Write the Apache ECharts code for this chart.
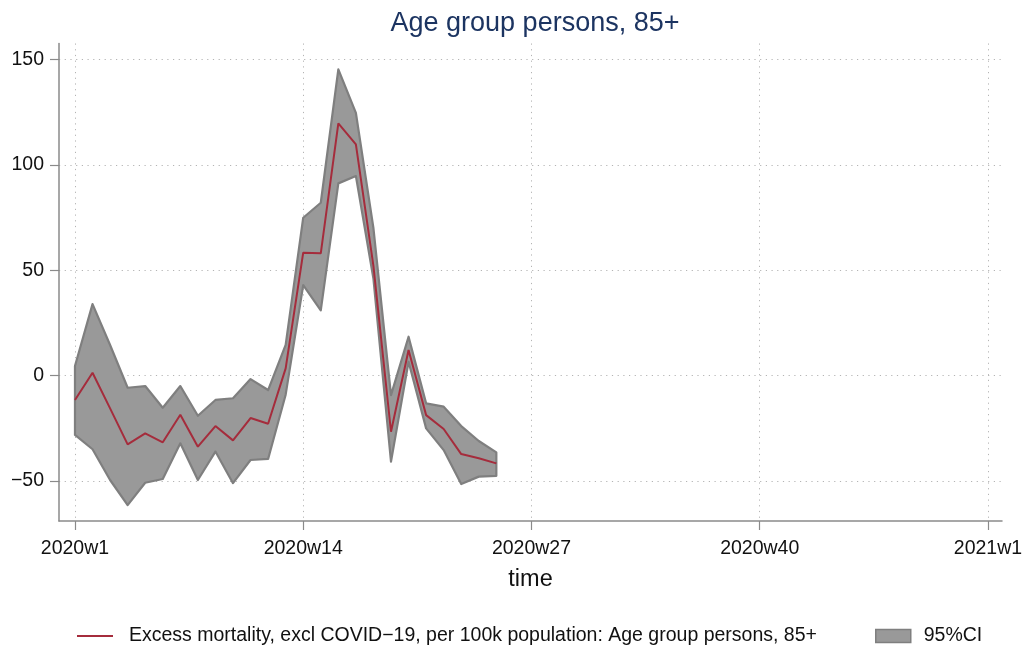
<!DOCTYPE html>
<html>
<head>
<meta charset="utf-8">
<script src="https://cdn.jsdelivr.net/npm/echarts@6/dist/echarts.min.js"></script>
<style>html,body{margin:0;padding:0;background:#fff;}#c{width:1031px;height:648px;}</style>
</head>
<body>
<div id="c"></div>
<script>
// ---- data ----
const weeks = [1,2,3,4,5,6,7,8,9,10,11,12,13,14,15,16,17,18,19,20,21,22,23,24,25];
const excess = [-11.5, 1.4, -15.5, -32.6, -27.4, -31.6, -18.5, -33.7, -23.9, -30.7, -20.1, -22.8, 3.5, 58.4, 58.1, 119.8, 109.8, 52, -26.6, 12.2, -18.7, -25.3, -37.2, -39.2, -41.6];
const ciUpper = [4.6, 34, 14.6, -5.7, -4.9, -15.2, -4.9, -19, -11.5, -10.7, -1.6, -6.8, 14.6, 75, 82.1, 145.4, 124.8, 70, -9.2, 18.5, -13.1, -14.7, -23.9, -31, -36.4];
const ciLower = [-28.1, -34.9, -49.5, -61.4, -50.8, -49, -32.1, -49.5, -36, -51, -40, -39.5, -9, 43, 31, 91.3, 94.8, 46, -40.8, 6.6, -25, -35.3, -51.4, -47.9, -47.5];
const xTickValues = [1, 14, 27, 40, 53];
const xTickLabels = ['2020w1', '2020w14', '2020w27', '2020w40', '2021w1'];
const yTickValues = [-50, 0, 50, 100, 150];
const titleText = 'Age group persons, 85+';
const lineName = 'Excess mortality, excl COVID\u221219, per 100k population: Age group persons, 85+';
const bandName = '95%CI';

const FONT = "'Liberation Sans', Arial, sans-serif";
const axisGray = '#8a8a8a';
const gridStyle = { color: '#b4b4b4', width: 1, type: [1.2, 4.5] };

const chart = echarts.init(document.getElementById('c'), null, { renderer: 'canvas' });
chart.setOption({
  animation: false,
  textStyle: { fontFamily: FONT },
  title: {
    text: titleText, left: 530, top: 5, textAlign: 'center',
    textStyle: { fontFamily: FONT, fontSize: 27, fontWeight: 'normal', color: '#1c3461' }
  },
  grid: { left: 59, right: 29, top: 43.5, bottom: 127, containLabel: false },
  legend: [
    {
      left: 77, top: 626, padding: 0, itemWidth: 36, itemHeight: 2,
      data: [{ name: lineName, icon: 'rect', itemStyle: { color: '#a52c3c' } }],
      textStyle: { fontFamily: FONT, fontSize: 19.5, color: '#111', lineHeight: 20, padding: [0, 0, 0, 11] }
    },
    {
      left: 875, top: 626, padding: 0, itemWidth: 35, itemHeight: 13,
      data: [{ name: bandName, icon: 'rect', itemStyle: { color: '#999999', borderColor: '#7f7f7f', borderWidth: 1.5 } }],
      textStyle: { fontFamily: FONT, fontSize: 19.5, color: '#111', lineHeight: 20, padding: [0, 0, 0, 8] }
    }
  ],
  xAxis: {
    type: 'value', min: 0.09, max: 53.8,
    name: 'time', nameLocation: 'middle', nameGap: 47,
    nameTextStyle: { fontFamily: FONT, fontSize: 23.5, color: '#111' },
    axisLine: { show: true, onZero: false, lineStyle: { color: axisGray, width: 1.5 } },
    axisTick: { show: true, length: 9, lineStyle: { color: axisGray, width: 1.2 }, customValues: xTickValues },
    axisLabel: {
      customValues: xTickValues, margin: 18, fontSize: 19.5, color: '#111', fontFamily: FONT,
      formatter: v => xTickLabels[xTickValues.indexOf(v)] || ''
    },
    splitLine: { show: true, lineStyle: gridStyle }
  },
  yAxis: {
    type: 'value', min: -68.96, max: 157.7,
    axisLine: { show: true, onZero: false, lineStyle: { color: axisGray, width: 1.5 } },
    axisTick: { show: true, length: 9, lineStyle: { color: axisGray, width: 1.2 }, customValues: yTickValues },
    axisLabel: {
      customValues: yTickValues, margin: 15, fontSize: 19.5, color: '#111', fontFamily: FONT,
      formatter: v => (v < 0 ? '\u2212' + Math.abs(v) : String(v))
    },
    splitLine: { show: true, lineStyle: gridStyle }
  },
  series: [
    {
      name: bandName, type: 'custom', z: 2,
      itemStyle: { color: '#999999', borderColor: '#7f7f7f', borderWidth: 1.5 },
      data: weeks.map((w, i) => [w, ciLower[i], ciUpper[i]]),
      encode: { x: 0, y: [1, 2] },
      renderItem: function (params, api) {
        if (params.dataIndex !== 0) return null;
        const pts = [];
        for (let i = 0; i < weeks.length; i++) pts.push(api.coord([weeks[i], ciUpper[i]]));
        for (let i = weeks.length - 1; i >= 0; i--) pts.push(api.coord([weeks[i], ciLower[i]]));
        return {
          type: 'polygon',
          shape: { points: pts },
          style: { fill: '#999999', stroke: '#7f7f7f', lineWidth: 2.2, lineJoin: 'round' }
        };
      }
    },
    {
      name: lineName, type: 'line', z: 3,
      data: weeks.map((w, i) => [w, excess[i]]),
      showSymbol: false, symbol: 'none',
      lineStyle: { color: '#a52c3c', width: 2 },
      itemStyle: { color: '#a52c3c' }
    }
  ]
});
</script>
</body>
</html>
